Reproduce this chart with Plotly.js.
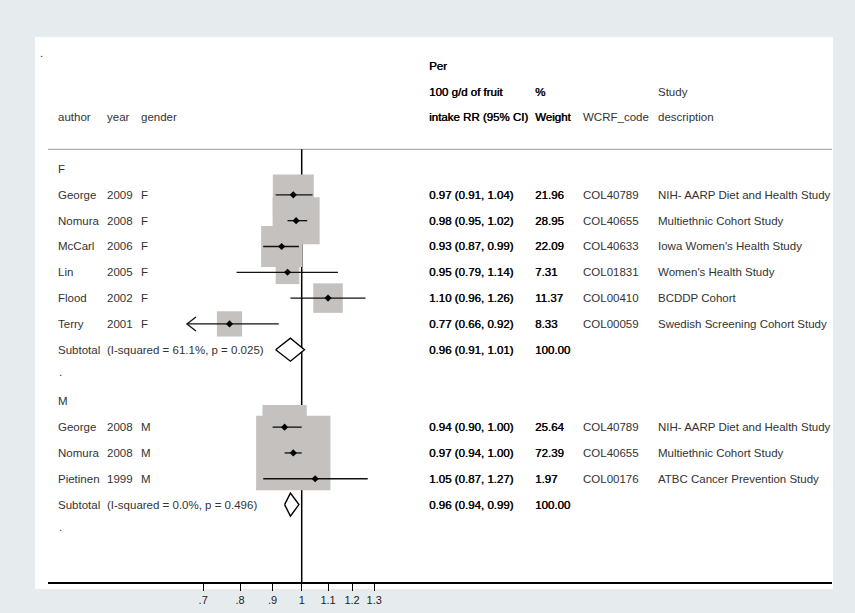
<!DOCTYPE html>
<html>
<head>
<meta charset="utf-8">
<script src="https://cdn.plot.ly/plotly-3.0.1.min.js"></script>
<style>
  html, body { margin: 0; padding: 0; background: #e6ecee; }
  #chart { width: 855px; height: 613px; }
</style>
</head>
<body>
<div id="chart"></div>
<script>
// Study-level estimates: relative risk per 100 g/d of fruit intake
const studyAuthor = ['George', 'Nomura', 'McCarl', 'Lin', 'Flood', 'Terry', 'George', 'Nomura', 'Pietinen'];
const studyYear = [2009, 2008, 2006, 2005, 2002, 2001, 2008, 2008, 1999];
const studyGender = ['F', 'F', 'F', 'F', 'F', 'F', 'M', 'M', 'M'];
const studyRR = [0.97, 0.98, 0.93, 0.95, 1.10, 0.77, 0.94, 0.97, 1.05];
const studyLow = [0.91, 0.95, 0.87, 0.79, 0.96, 0.66, 0.90, 0.94, 0.87];
const studyHigh = [1.04, 1.02, 0.99, 1.14, 1.26, 0.92, 1.00, 1.00, 1.27];
const studyWeight = [21.96, 28.95, 22.09, 7.31, 11.37, 8.33, 25.64, 72.39, 1.97];
const studyCode = ['COL40789', 'COL40655', 'COL40633', 'COL01831', 'COL00410', 'COL00059', 'COL40789', 'COL40655', 'COL00176'];
const studyDesc = ['NIH- AARP Diet and Health Study', 'Multiethnic Cohort Study', "Iowa Women's Health Study",
  "Women's Health Study", 'BCDDP Cohort', 'Swedish Screening Cohort Study',
  'NIH- AARP Diet and Health Study', 'Multiethnic Cohort Study', 'ATBC Cancer Prevention Study'];

// Pooled subgroup estimates
const groupName = ['F', 'M'];
const groupRR = [0.96, 0.96];
const groupLow = [0.91, 0.94];
const groupHigh = [1.01, 0.99];
const groupWeight = [100.00, 100.00];
const groupHet = ['(I-squared = 61.1%, p = 0.025)', '(I-squared = 0.0%, p = 0.496)'];

// Axis ticks
const tickVals = [0.7, 0.8, 0.9, 1, 1.1, 1.2, 1.3];
const tickText = ['.7', '.8', '.9', '1', '1.1', '1.2', '1.3'];

// ---- layout geometry (pixels) ----
const W = 855, H = 613;
const plotL = 48, plotR = 832, plotT = 40, plotB = 582;
const plotW = plotR - plotL;
const pxPerLn = 276.2;           // horizontal scale of the log axis
const xOne = 301.7;              // pixel of RR = 1
const lnLeft = -(xOne - plotL) / pxPerLn;
const lnRight = lnLeft + plotW / pxPerLn;
const xRange = [lnLeft / Math.LN10, lnRight / Math.LN10];
const rowTop = -5, rowBottom = 16;
const pxPerRow = (plotB - plotT) / (rowBottom - rowTop);
const boxScale = 8.74;           // box side in px per sqrt(weight)

const colAuthor = 57, colYear = 106, colGender = 140;
const colEffect = 428, colWeight = 534, colCode = 582, colDesc = 657;

const px = (p) => (p - plotL - 1) / plotW;
const py = (p) => (plotB - p) / (plotB - plotT);
const fmt = (v) => v.toFixed(2);

const FAMILY = 'Liberation Sans, Arial, sans-serif';
const textFont = { family: FAMILY, size: 11.5, color: '#333333' };
const heavyFont = { family: FAMILY, size: 11.5, color: '#000000', shadow: '0.45px 0 0 #000000' };

const annotations = [];
function label(colPx, row, text, font) {
  annotations.push({
    xref: 'paper', yref: 'y', x: px(colPx), y: row, text: text,
    xanchor: 'left', yanchor: 'middle', showarrow: false, font: font || textFont
  });
}

// Header block
label(colEffect, -4, 'Per', heavyFont);
label(colEffect, -3, '100 g/d of fruit', heavyFont);
label(colWeight, -3, '%', heavyFont);
label(colDesc, -3, 'Study');
label(colAuthor, -2, 'author');
label(colYear, -2, 'year');
label(colGender, -2, 'gender');
label(colEffect, -2, 'intake RR (95% CI)', heavyFont);
label(colWeight, -2, 'Weight', heavyFont);
label(colCode, -2, 'WCRF_code');
label(colDesc, -2, 'description');
label(39, -4.5, '.');

// Assign rows: group header, studies, subtotal, spacer
const studyRow = [];
const groupRow = [];
let row = 0;
groupName.forEach((g, gi) => {
  label(colAuthor, row, g);
  row += 1;
  studyGender.forEach((sg, i) => {
    if (sg === g) { studyRow[i] = row; row += 1; }
  });
  groupRow[gi] = row;
  row += 1;
  label(colAuthor + 1, row - 0.15, '.');
  row += 1;
});

// Study rows text
studyAuthor.forEach((a, i) => {
  const r = studyRow[i];
  label(colAuthor, r, a);
  label(colYear, r, String(studyYear[i]));
  label(colGender, r, studyGender[i]);
  label(colEffect, r, fmt(studyRR[i]) + ' (' + fmt(studyLow[i]) + ', ' + fmt(studyHigh[i]) + ')', heavyFont);
  label(colWeight, r, fmt(studyWeight[i]), heavyFont);
  label(colCode, r, studyCode[i]);
  label(colDesc, r, studyDesc[i]);
});

// Subtotal rows text
groupName.forEach((g, gi) => {
  const r = groupRow[gi];
  label(colAuthor, r, 'Subtotal');
  label(colYear, r, groupHet[gi]);
  label(colEffect, r, fmt(groupRR[gi]) + ' (' + fmt(groupLow[gi]) + ', ' + fmt(groupHigh[gi]) + ')', heavyFont);
  label(colWeight, r, fmt(groupWeight[gi]), heavyFont);
});

const traces = [];

// Weight boxes (area proportional to study weight)
traces.push({
  type: 'scatter', mode: 'markers', hoverinfo: 'skip',
  x: studyRR, y: studyRow,
  marker: {
    symbol: 'square', color: 'rgb(196,193,190)', opacity: 1,
    size: studyWeight.map(w => boxScale * Math.sqrt(w)), line: { width: 0 }
  }
});

// Confidence interval lines
const ciX = [], ciY = [];
studyRR.forEach((v, i) => {
  ciX.push(studyLow[i], studyHigh[i], null);
  ciY.push(studyRow[i], studyRow[i], null);
});
traces.push({
  type: 'scatter', mode: 'lines', hoverinfo: 'skip', x: ciX, y: ciY,
  line: { color: '#111', width: 1.3 }
});

// Arrow heads where an interval runs past the labelled axis range
const arrX = [], arrY = [];
const minTick = Math.min(...tickVals);
studyLow.forEach((lo, i) => {
  if (lo < minTick) {
    const back = lo * Math.exp(9 / pxPerLn);
    const dy = 7 / pxPerRow;
    arrX.push(back, lo, back, null);
    arrY.push(studyRow[i] - dy, studyRow[i], studyRow[i] + dy, null);
  }
});
traces.push({
  type: 'scatter', mode: 'lines', hoverinfo: 'skip', x: arrX, y: arrY,
  line: { color: '#111', width: 1.3 }
});

// Point estimates
traces.push({
  type: 'scatter', mode: 'markers', hoverinfo: 'skip', x: studyRR, y: studyRow,
  marker: { symbol: 'diamond', color: '#000', size: 5.5, opacity: 1, line: { width: 0 } }
});

// Pooled estimate diamonds
groupName.forEach((g, gi) => {
  const r = groupRow[gi];
  const h = 11.5 / pxPerRow;
  traces.push({
    type: 'scatter', mode: 'lines', hoverinfo: 'skip',
    x: [groupLow[gi], groupRR[gi], groupHigh[gi], groupRR[gi], groupLow[gi]],
    y: [r, r - h, r, r + h, r],
    fill: 'toself', fillcolor: '#ffffff',
    line: { color: '#000', width: 1.4 }
  });
});

const sepRow = (149.3 - plotT) / pxPerRow + rowTop;

const shapes = [
  // white panel
  { type: 'rect', xref: 'paper', yref: 'paper', layer: 'below',
    x0: px(36), x1: px(834), y0: py(589), y1: py(37),
    fillcolor: '#ffffff', line: { width: 0 } },
  // header separator
  { type: 'line', xref: 'paper', yref: 'y', layer: 'below',
    x0: 0, x1: 1, y0: sepRow, y1: sepRow,
    line: { color: '#9a9a9a', width: 1 } },
  // line of no effect
  { type: 'line', xref: 'x', yref: 'y', layer: 'below',
    x0: 1, x1: 1, y0: sepRow, y1: rowBottom,
    line: { color: '#000', width: 1.5 } }
];

const layout = {
  width: W, height: H,
  margin: { l: plotL, r: W - plotR, t: plotT, b: H - plotB, pad: 0 },
  paper_bgcolor: '#e6ecee',
  plot_bgcolor: 'rgba(0,0,0,0)',
  showlegend: false,
  xaxis: {
    type: 'log', range: xRange, fixedrange: true,
    tickmode: 'array', tickvals: tickVals, ticktext: tickText,
    showgrid: false, zeroline: false,
    showline: true, linecolor: '#000', linewidth: 1.6, mirror: false,
    ticks: 'outside', ticklen: 7, tickwidth: 1, tickcolor: '#000',
    tickfont: { family: FAMILY, size: 11, color: '#222' }
  },
  yaxis: {
    range: [rowBottom, rowTop], fixedrange: true, visible: false,
    showgrid: false, zeroline: false
  },
  shapes: shapes,
  annotations: annotations
};

Plotly.newPlot('chart', traces, layout, { displayModeBar: false, staticPlot: true });
</script>
</body>
</html>
